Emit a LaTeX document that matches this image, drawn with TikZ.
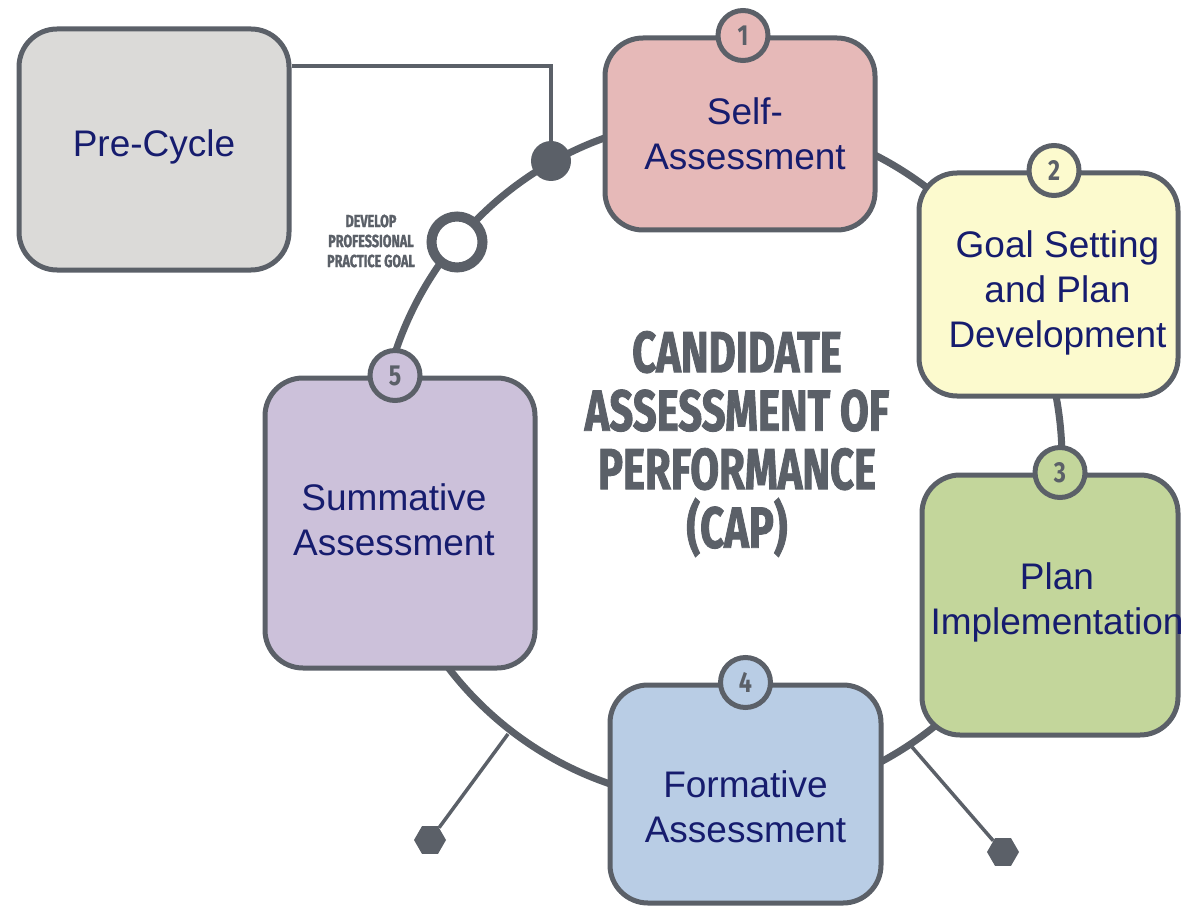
\documentclass[tikz,border=0pt]{standalone}
\usepackage{fontspec}
\setmainfont{Liberation Sans}
\newfontfamily\capfont{Fira Sans}[FakeStretch=0.72, FakeBold=1.5]
\newfontfamily\numfont{Fira Sans}[FakeStretch=0.8]
\usepackage{tikz}
\usetikzlibrary{shapes.geometric,positioning}
\usepackage{xcolor}

\definecolor{edge}{RGB}{91,96,104}
\definecolor{navy}{RGB}{22,28,110}
\definecolor{precol}{RGB}{219,218,216}
\definecolor{selfcol}{RGB}{230,185,184}
\definecolor{goalcol}{RGB}{252,250,206}
\definecolor{plancol}{RGB}{195,214,155}
\definecolor{formcol}{RGB}{185,205,229}
\definecolor{sumcol}{RGB}{204,193,218}

\begin{document}
\begin{tikzpicture}[
    x=1pt, y=-1pt,
    boxtext/.style={text=navy, align=center, font=\fontsize{37}{45}\selectfont},
    box/.style={rectangle, rounded corners=38pt, draw=edge, line width=5pt, inner sep=0pt},
    badge/.style={circle, draw=edge, line width=5pt, minimum size=50pt, inner sep=0pt, text=edge, font=\numfont\bfseries\fontsize{29}{29}\selectfont},
    hexend/.style={regular polygon, regular polygon sides=6, fill=edge, minimum size=32pt, inner sep=0pt},
    ring/.style={draw=edge, line width=7pt},
    link/.style={draw=edge, line width=4pt},
    arm/.style={draw=edge, line width=3.5pt}
]
    \useasboundingbox (0,0) rectangle (1182,909);

    % Cycle ring
    \coordinate (hub) at (720,460);
    \draw[ring] (hub) circle [radius=342pt];

    % Hexagon arms
    \coordinate (armL) at (508,734);
    \coordinate (armR) at (912,747);
    \node[hexend] (hexL) at (430,840) {};
    \node[hexend] (hexR) at (1003,852) {};
    \draw[arm] (armL) -- (hexL);
    \draw[arm] (armR) -- (hexR);

    % Stages
    \node[box, fill=precol, minimum width=270pt, minimum height=241pt,
          label={[boxtext, yshift=3pt]center:Pre-Cycle}] (pre) at (154,149.5) {};
    \node[box, fill=selfcol, minimum width=270pt, minimum height=192pt,
          label={[boxtext, xshift=5pt]center:Self-\\Assessment}] (self) at (740,134) {};
    \node[box, fill=goalcol, minimum width=259pt, minimum height=223pt,
          label={[boxtext, xshift=9pt, yshift=-8pt]center:Goal Setting\\and Plan\\Development}] (goal) at (1048.5,284.5) {};
    \node[box, fill=plancol, minimum width=256pt, minimum height=260pt,
          label={[boxtext, xshift=7pt, yshift=3pt]center:Plan\\Implementation}] (plan) at (1050,605) {};
    \node[box, fill=formcol, minimum width=271pt, minimum height=218pt,
          label={[boxtext, yshift=-13pt]center:Formative\\Assessment}] (form) at (745.5,794) {};
    \node[box, fill=sumcol, minimum width=270pt, minimum height=290pt,
          label={[boxtext, xshift=-6pt, yshift=3pt]center:Summative\\Assessment}] (sum) at (400,523) {};

    % Numbered badges
    \node[badge, fill=selfcol] (b1) at ([xshift=3pt]self.north) {1};
    \node[badge, fill=goalcol] (b2) at ([xshift=5.5pt]goal.north) {2};
    \node[badge, fill=plancol] (b3) at ([xshift=10pt]plan.north) {3};
    \node[badge, fill=formcol] (b4) at (form.north) {4};
    \node[badge, fill=sumcol] (b5) at ([xshift=-5pt]sum.north) {5};

    % Junctions on the ring
    \node[circle, fill=edge, minimum size=40pt, inner sep=0pt] (dot) at (551,161) {};
    \node[circle, draw=edge, fill=white, line width=10pt, minimum size=51pt, inner sep=0pt] (goalring) at (457,242) {};

    % Pre-cycle link
    \coordinate (bend) at (551,66);
    \draw[link] (pre.east |- bend) -- (bend) -- (dot.north);

    % Labels
    \node[text=edge, align=center, font=\capfont\bfseries\fontsize{17.5}{20}\selectfont] (goallabel) at (371,241) {DEVELOP\\PROFESSIONAL\\PRACTICE GOAL};
    \node[text=edge, align=center, font=\capfont\bfseries\fontsize{58}{58.5}\selectfont] (cap) at (737,444) {CANDIDATE\\ASSESSMENT OF\\PERFORMANCE\\(CAP)};
\end{tikzpicture}
\end{document}
